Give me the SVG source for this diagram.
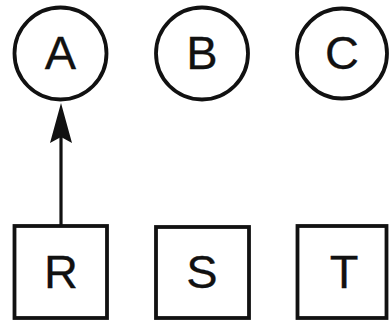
<svg xmlns="http://www.w3.org/2000/svg" width="389" height="324" viewBox="0 0 389 324">
  <style>
    .node { fill: #fff; stroke: #111; stroke-width: 3.8; }
    .label { font-family: "Liberation Sans", Arial, sans-serif; font-size: 47px; fill: #111; stroke: #111; stroke-width: 0.3; text-anchor: middle; }
    .edge { stroke: #111; stroke-width: 3.2; fill: none; }
    .head { fill: #111; }
  </style>
  <rect width="389" height="324" fill="#fff"/>
  <g id="connectors">
    <line class="edge" x1="61" y1="226" x2="61" y2="110"/>
    <path class="head" d="M61,103 L72,143 L61,137 L50,143 Z"/>
  </g>
  <g id="node-A">
    <circle class="node" cx="60.5" cy="53.5" r="46"/>
    <text class="label" x="60.5" y="69">A</text>
  </g>
  <g id="node-B">
    <circle class="node" cx="202" cy="53.5" r="46"/>
    <text class="label" x="202" y="69">B</text>
  </g>
  <g id="node-C">
    <circle class="node" cx="342" cy="53.5" r="45"/>
    <text class="label" x="342" y="69">C</text>
  </g>
  <g id="node-R">
    <rect class="node" x="14.5" y="226" width="92.5" height="92"/>
    <text class="label" x="61" y="288">R</text>
  </g>
  <g id="node-S">
    <rect class="node" x="156" y="227" width="93" height="91"/>
    <text class="label" x="202" y="288">S</text>
  </g>
  <g id="node-T">
    <rect class="node" x="297.5" y="226" width="89" height="92"/>
    <text class="label" x="344" y="288">T</text>
  </g>
</svg>
